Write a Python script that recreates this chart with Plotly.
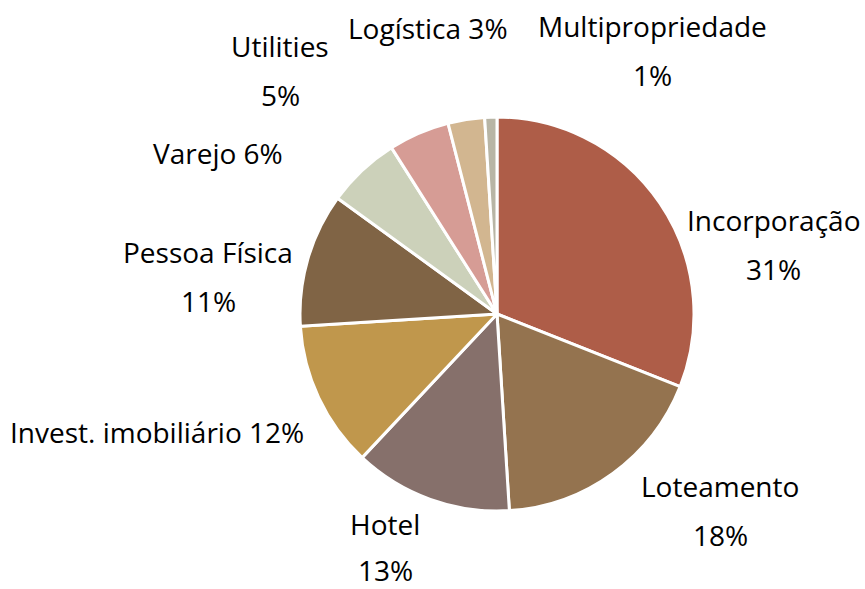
import plotly.graph_objects as go

labels = ["Incorporação", "Loteamento", "Hotel", "Invest. imobiliário", "Pessoa Física",
          "Varejo", "Utilities", "Logística", "Multipropriedade"]
values = [31, 18, 13, 12, 11, 6, 5, 3, 1]
colors = ["#AE5D48", "#94734F", "#86706B", "#C0974C", "#806445",
          "#CCD1BA", "#D69C95", "#D2B690", "#B8B5A5"]

# label layout: (x_center_px, first line y px, line gap px or None for one line)
label_layout = {
    "Incorporação": (773, 220, 49),
    "Loteamento": (720, 486, 49),
    "Hotel": (385, 524, 46),
    "Invest. imobiliário": (157, 432, None),
    "Pessoa Física": (208, 252, 49),
    "Varejo": (218, 153, None),
    "Utilities": (280, 46, 49),
    "Logística": (428, 28, None),
    "Multipropriedade": (652, 26, 49),
}

W, H = 865, 589
cx, cy, r = 497, 314, 197

fig = go.Figure(go.Pie(
    labels=labels, values=values, sort=False, direction="clockwise", rotation=0,
    marker=dict(colors=colors, line=dict(color="white", width=3)),
    textinfo="none", hoverinfo="label+percent", showlegend=False,
    domain=dict(x=[(cx - r) / W, (cx + r) / W], y=[1 - (cy + r) / H, 1 - (cy - r) / H]),
))

font = dict(family="Open Sans", size=28, color="#000000")
annotations = []
for lab, val in zip(labels, values):
    x, y, gap = label_layout[lab]
    pct = f"{val}%"
    lines = [lab, pct] if gap else [f"{lab} {pct}"]
    for i, t in enumerate(lines):
        annotations.append(dict(text=t, x=x / W, y=1 - (y + i * (gap or 0)) / H,
                                xref="paper", yref="paper", showarrow=False,
                                xanchor="center", yanchor="middle", font=font))

fig.update_layout(width=W, height=H, margin=dict(l=0, r=0, t=0, b=0),
                  paper_bgcolor="white", plot_bgcolor="white", annotations=annotations)
fig.write_html("out.html", config={"displayModeBar": False},
               post_script="document.body.style.margin='0';")
